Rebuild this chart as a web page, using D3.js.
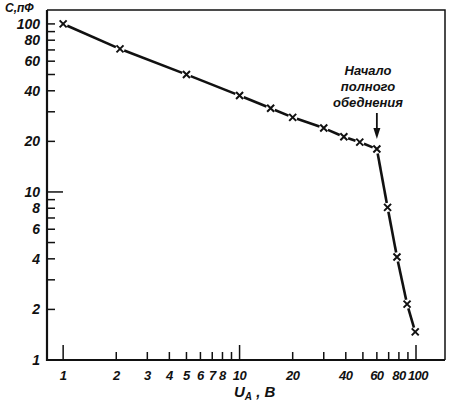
<!DOCTYPE html>
<html>
<head>
<meta charset="utf-8">
<script src="https://cdn.jsdelivr.net/npm/d3@7"></script>
<style>
  body { margin: 0; background: #fff; }
  text { font-family: "Liberation Sans", Arial, sans-serif; font-style: italic; font-weight: bold; fill: #111; }
</style>
</head>
<body>
<div id="chart"></div>
<script>
var width = 449,
    height = 403,
    margin = {left: 47, top: 10, right: 4, bottom: 43};

// данные
var voltage = [1, 2.1, 5, 10, 15, 20, 30, 39, 48, 60, 69, 78, 89, 99];
var capacitance = [100, 71, 50, 37.5, 31.5, 27.8, 24, 21.3, 19.8, 18, 8.1, 4.1, 2.15, 1.47];
var xTickLabels = [1, 2, 3, 4, 5, 6, 7, 8, 10, 20, 40, 60, 80, 100];
var yTickLabels = [1, 2, 4, 6, 8, 10, 20, 40, 60, 80, 100];
var annotation = ["Начало", "полного", "обеднения"];

var x = d3.scaleLog().domain([0.81, 146]).range([margin.left, width - margin.right]);
var y = d3.scaleLog().domain([1, 121]).range([height - margin.bottom, margin.top]);

var svg = d3.select("#chart").append("svg")
    .attr("width", width)
    .attr("height", height);

var x0 = margin.left, y0 = height - margin.bottom;

// рамка: верх и правый край тонкие
svg.append("path")
    .attr("d", "M" + x0 + "," + margin.top + "H" + (width - margin.right) + "V" + y0)
    .attr("fill", "none").attr("stroke", "#111").attr("stroke-width", 1.5);

// оси
svg.append("path")
    .attr("d", "M" + x0 + "," + margin.top + "V" + y0 + "H" + (width - margin.right))
    .attr("fill", "none").attr("stroke", "#111").attr("stroke-width", 2.2);

var minor = [1, 2, 3, 4, 5, 6, 7, 8, 9];
var decadeTicks = [];
[1, 10, 100].forEach(function (d) { minor.forEach(function (m) { decadeTicks.push(d * m); }); });

// деления оси X (внутрь, вверх)
svg.selectAll(".xt").data(decadeTicks.filter(d => d <= 100))
  .enter().append("line")
    .attr("x1", d => x(d)).attr("x2", d => x(d))
    .attr("y1", y0).attr("y2", d => y0 - ([1, 10, 100].includes(d) ? 15 : 8))
    .attr("stroke", "#111").attr("stroke-width", 1.5);

svg.selectAll(".xl").data(xTickLabels)
  .enter().append("text")
    .attr("x", d => x(d) + (d === 100 ? 2 : 0)).attr("y", 380)
    .attr("text-anchor", "middle")
    .style("font-size", "13px")
    .style("letter-spacing", "-0.5px")
    .text(d => d);

// деления оси Y (внутрь, вправо)
svg.selectAll(".yt").data(decadeTicks.filter(d => d > 1 && d <= 100))
  .enter().append("line")
    .attr("y1", d => y(d)).attr("y2", d => y(d))
    .attr("x1", x0).attr("x2", d => x0 + (d === 10 ? 16 : 8))
    .attr("stroke", "#111").attr("stroke-width", 1.5);

svg.selectAll(".yl").data(yTickLabels)
  .enter().append("text")
    .attr("x", 40).attr("y", d => y(d) + 5)
    .attr("text-anchor", "end")
    .style("font-size", "14px")
    .text(d => d);

// подписи осей
svg.append("text").attr("x", 5).attr("y", 12).style("font-size", "12px").text("C,пФ");

var xl = svg.append("text").attr("x", 234).attr("y", 397).style("font-size", "15px");
xl.append("tspan").text("U");
xl.append("tspan").attr("dy", 3).style("font-size", "10px").text("A");
xl.append("tspan").attr("dy", -3).text(" , B");

// кривая с разрывами у маркеров
var pts = voltage.map((v, i) => [x(v), y(capacitance[i])]);
var gap = 4.5;
for (var i = 0; i < pts.length - 1; i++) {
  var a = pts[i], b = pts[i + 1];
  var dx = b[0] - a[0], dy = b[1] - a[1], len = Math.sqrt(dx * dx + dy * dy);
  var ux = dx / len, uy = dy / len;
  svg.append("line")
      .attr("x1", a[0] + ux * gap).attr("y1", a[1] + uy * gap)
      .attr("x2", b[0] - ux * gap).attr("y2", b[1] - uy * gap)
      .attr("stroke", "#111").attr("stroke-width", 2.6);
}

// маркеры-крестики
var s = 3.5;
svg.selectAll(".mk").data(pts)
  .enter().append("path")
    .attr("d", d => "M" + (d[0] - s) + "," + (d[1] - s) + "L" + (d[0] + s) + "," + (d[1] + s) +
                    "M" + (d[0] - s) + "," + (d[1] + s) + "L" + (d[0] + s) + "," + (d[1] - s))
    .attr("stroke", "#111").attr("stroke-width", 2).attr("fill", "none");

// аннотация со стрелкой
svg.selectAll(".an").data(annotation)
  .enter().append("text")
    .attr("x", 368).attr("y", (d, i) => 75 + i * 16)
    .attr("text-anchor", "middle")
    .style("font-size", "13px")
    .text(d => d);

var ax = x(60);
svg.append("line").attr("x1", ax).attr("x2", ax).attr("y1", 113).attr("y2", 130)
    .attr("stroke", "#111").attr("stroke-width", 1.8);
svg.append("path")
    .attr("d", "M" + (ax - 3.5) + ",128L" + (ax + 3.5) + ",128L" + ax + ",139Z")
    .attr("fill", "#111");
</script>
</body>
</html>
